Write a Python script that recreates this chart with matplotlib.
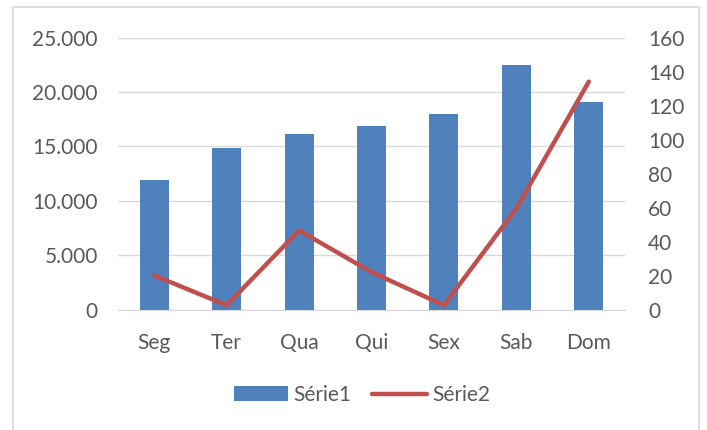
import matplotlib.pyplot as plt
from matplotlib.ticker import FuncFormatter
from matplotlib.patches import Rectangle

plt.rcParams['font.family'] = ['Lato', 'DejaVu Sans']

dias = ['Seg', 'Ter', 'Qua', 'Qui', 'Sex', 'Sab', 'Dom']
serie1 = [11900, 14800, 16100, 16900, 17950, 22450, 19050]
serie2 = [20, 2.5, 46.5, 22, 2.5, 59.5, 134]

cinza = '#595959'
fs = 15

fig = plt.figure(figsize=(7.07, 4.30), dpi=100)
fig.patches.append(Rectangle((12.5 / 707, -0.01), 686.5 / 707, 1 - 7 / 430 + 0.01,
                             transform=fig.transFigure, fill=False,
                             edgecolor='#d9d9d9', lw=1.2))

ax = fig.add_axes([118 / 707, 1 - 309.5 / 430, 507 / 707, 272 / 430])
x = range(len(dias))
barras = ax.bar(x, serie1, width=0.4, color='#4f81bd', zorder=2, label='Série1')
ax.set_xlim(-0.5, 6.5)
ax.set_ylim(0, 25000)
ax.set_yticks(range(0, 25001, 5000))
ax.yaxis.set_major_formatter(FuncFormatter(lambda v, p: f'{int(v):,}'.replace(',', '.')))
ax.set_xticks(list(x))
ax.set_xticklabels(dias)
ax.grid(axis='y', color='#d9d9d9', lw=1, zorder=0)
for s in ['top', 'left', 'right']:
    ax.spines[s].set_visible(False)
ax.spines['bottom'].set_color('#d9d9d9')
ax.tick_params(length=0, labelsize=fs, colors=cinza)
ax.tick_params(axis='x', pad=17)
ax.tick_params(axis='y', pad=14.5)

ax2 = ax.twinx()
linha, = ax2.plot(x, serie2, color='#c0504d', lw=3.2, solid_capstyle='round',
                  solid_joinstyle='round', zorder=3, label='Série2')
ax2.set_ylim(0, 160)
ax2.set_yticks(range(0, 161, 20))
for s in ax2.spines.values():
    s.set_visible(False)
ax2.tick_params(length=0, labelsize=fs, colors=cinza, pad=16.5)

fig.legend([barras, linha], ['Série1', 'Série2'], loc='center',
           bbox_to_anchor=(362 / 707, 1 - 395 / 430), ncol=2, frameon=False,
           fontsize=fs, labelcolor=cinza, handlelength=2.6, handletextpad=0.25,
           columnspacing=1.0, handleheight=0.75)

fig.savefig('out.png', dpi=100)
